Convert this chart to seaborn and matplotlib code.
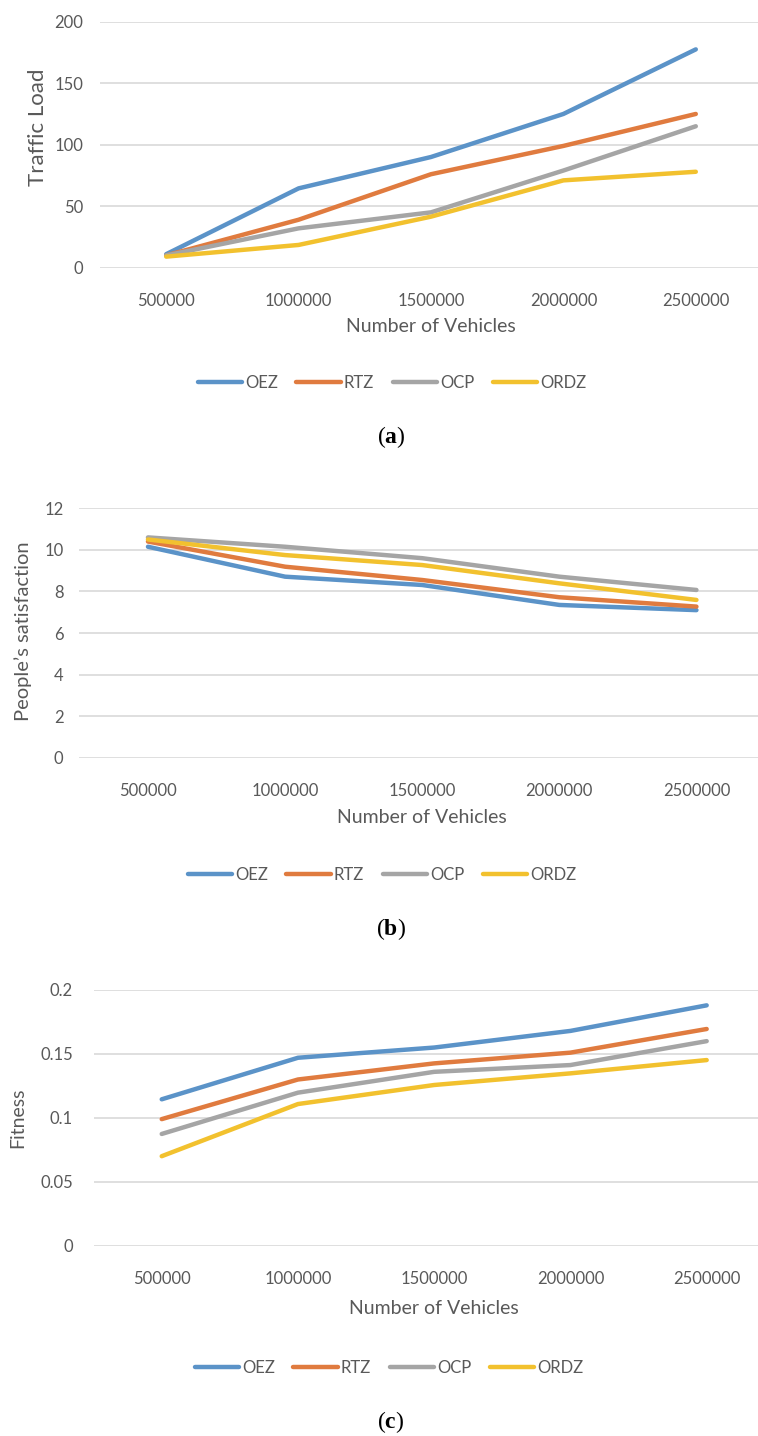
import pandas as pd
import matplotlib
matplotlib.use("Agg")
import matplotlib.pyplot as plt
from matplotlib.lines import Line2D
import seaborn as sns

# -------------------------------
# Data
# -------------------------------
vehicles = ["500000", "1000000", "1500000", "2000000", "2500000"]
methods = ["OEZ", "RTZ", "OCP", "ORDZ"]

traffic_oez = [11, 64.5, 90, 125, 177.5]
traffic_rtz = [10, 39, 76, 99, 125]
traffic_ocp = [10, 32, 45, 79, 115]
traffic_ordz = [9, 18.5, 41.5, 71, 78]

satis_oez = [10.15, 8.71, 8.31, 7.35, 7.1]
satis_rtz = [10.4, 9.19, 8.55, 7.72, 7.27]
satis_ocp = [10.6, 10.15, 9.6, 8.71, 8.07]
satis_ordz = [10.5, 9.75, 9.27, 8.39, 7.59]

fit_oez = [0.1145, 0.147, 0.155, 0.168, 0.188]
fit_rtz = [0.099, 0.130, 0.1426, 0.151, 0.1695]
fit_ocp = [0.0874, 0.1197, 0.136, 0.1413, 0.160]
fit_ordz = [0.070, 0.1108, 0.1257, 0.1348, 0.1452]

colors = ["#5b93c8", "#e07b3f", "#a5a5a5", "#f2c12e"]


def long_df(series):
    rows = []
    for m, vals in zip(methods, series):
        for v, y in zip(vehicles, vals):
            rows.append({"vehicles": v, "value": y, "method": m})
    return pd.DataFrame(rows)


sns.set_theme(style="whitegrid")
plt.rcParams["font.family"] = ["Lato", "DejaVu Sans"]
plt.rcParams["mathtext.fontset"] = "custom"
plt.rcParams["mathtext.rm"] = "Liberation Serif"
plt.rcParams["mathtext.bf"] = "Liberation Serif:bold"

W, H = 758, 1436
fig = plt.figure(figsize=(W / 100, H / 100), dpi=100)
fig.patch.set_facecolor("white")

txt = "#595959"

# panel settings in pixel units (left, right, top, bottom of plot area)
panels = [
    dict(data=[traffic_oez, traffic_rtz, traffic_ocp, traffic_ordz],
         box=(100, 762, 21.7, 267.7), ylim=(0, 200), yticks=[0, 50, 100, 150, 200],
         ylabels=["0", "50", "100", "150", "200"], ypad=12,
         ylab="Traffic Load", ylab_xy=(38, 127.5), ylab_size=16,
         xlab_y=327, leg_xy=(392, 383), cap="a", cap_y=437),
    dict(data=[satis_oez, satis_rtz, satis_ocp, satis_ordz],
         box=(79.4, 765, 508.3, 757.7), ylim=(0, 12), yticks=[0, 2, 4, 6, 8, 10, 12],
         ylabels=["0", "2", "4", "6", "8", "10", "12"], ypad=11.5,
         ylab="People\u2019s satisfaction", ylab_xy=(23, 631), ylab_size=14.5,
         xlab_y=818, leg_xy=(382, 875), cap="b", cap_y=929),
    dict(data=[fit_oez, fit_rtz, fit_ocp, fit_ordz],
         box=(93.6, 774.8, 990, 1245.7), ylim=(0, 0.2), yticks=[0, 0.05, 0.1, 0.15, 0.2],
         ylabels=["0", "0.05", "0.1", "0.15", "0.2"], ypad=15,
         ylab="Fitness", ylab_xy=(18, 1118), ylab_size=14,
         xlab_y=1309, leg_xy=(389, 1368), cap="c", cap_y=1422),
]

for p in panels:
    l, r, t, b = p["box"]
    ax = fig.add_axes([l / W, 1 - b / H, (r - l) / W, (b - t) / H])
    df = long_df(p["data"])
    sns.lineplot(data=df, x="vehicles", y="value", hue="method",
                 palette=colors, linewidth=3.2, legend=False, ax=ax,
                 solid_capstyle="round")
    ax.set_xlim(-0.5, 4.5)
    ax.set_ylim(*p["ylim"])
    ax.set_yticks(p["yticks"])
    ax.set_yticklabels(p["ylabels"])
    ax.grid(axis="x", visible=False)
    ax.grid(axis="y", color="#d9d9d9", linewidth=1.2)
    for s in ax.spines.values():
        s.set_visible(False)
    ax.tick_params(axis="y", length=0, pad=p["ypad"], labelsize=12, labelcolor=txt)
    ax.tick_params(axis="x", length=0, pad=18, labelsize=12, labelcolor=txt)
    ax.set_xlabel("")
    ax.set_ylabel("")
    ax.set_facecolor("white")

    # axis titles
    fig.text(p["ylab_xy"][0] / W, 1 - p["ylab_xy"][1] / H, p["ylab"],
             rotation=90, ha="center", va="center", fontsize=p["ylab_size"], color=txt)
    fig.text(((l + r) / 2) / W, 1 - p["xlab_y"] / H, "Number of Vehicles",
             ha="center", va="center", fontsize=14, color=txt)

    # legend under each panel
    handles = [Line2D([], [], color=c, linewidth=3.2, solid_capstyle="round") for c in colors]
    fig.legend(handles, methods, loc="center",
               bbox_to_anchor=(p["leg_xy"][0] / W, 1 - p["leg_xy"][1] / H),
               ncol=4, frameon=False, fontsize=12, handlelength=2.65,
               handletextpad=0.2, columnspacing=1.1, labelcolor=txt)

    # panel caption
    fig.text(391 / W, 1 - p["cap_y"] / H, r"($\mathbf{%s}$)" % p["cap"],
             ha="center", va="center", fontsize=17, color="black",
             family="Liberation Serif")

fig.savefig("out.png", dpi=100, facecolor="white")
